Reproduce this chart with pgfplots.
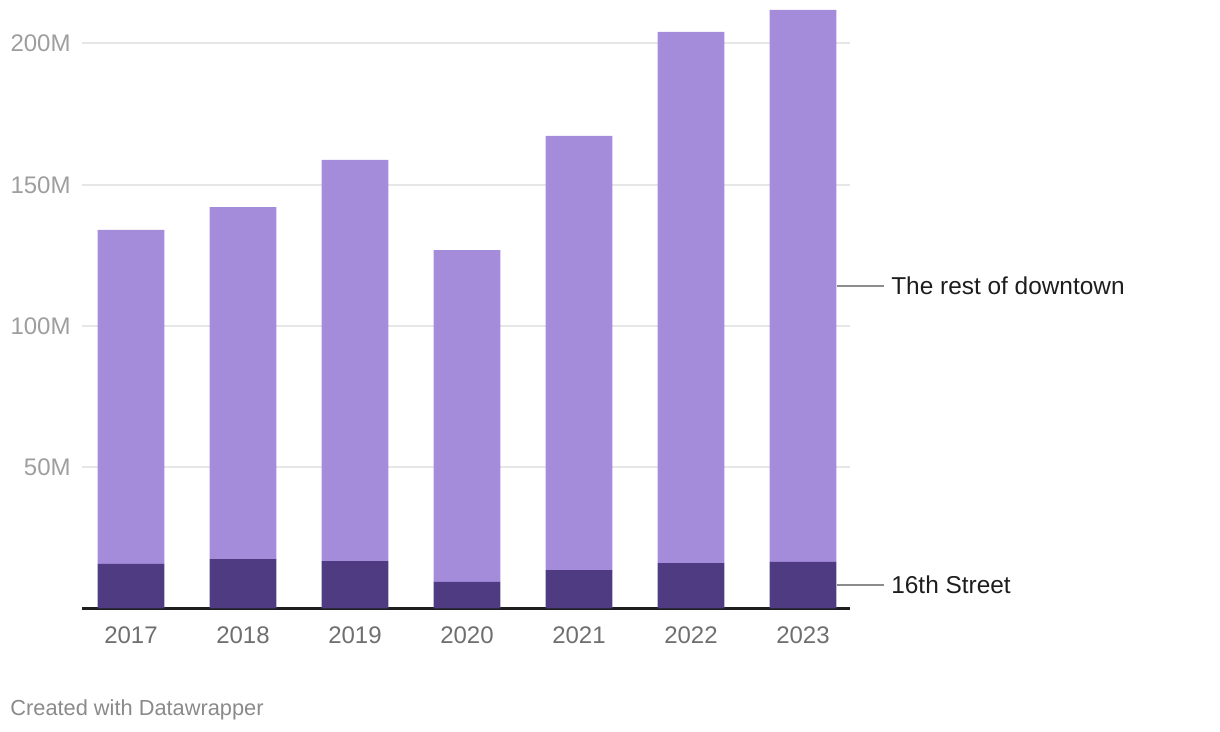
\documentclass[border=0pt]{standalone}
\usepackage{fontspec}
\setmainfont{Liberation Sans}
\usepackage{pgfplots}
\pgfplotsset{compat=1.18}

\definecolor{restpurple}{HTML}{A48CDB}
\definecolor{streetpurple}{HTML}{4F3B81}
\definecolor{gridgray}{HTML}{E6E6E6}
\definecolor{xlabgray}{HTML}{6F6F6F}
\definecolor{ylabgray}{HTML}{9E9E9E}
\definecolor{footgray}{HTML}{8A8A8A}
\definecolor{linegray}{HTML}{8C8C8C}
\definecolor{labtext}{HTML}{1D1D1D}

\begin{document}
\begin{tikzpicture}
\begin{axis}[
    name=ax,
    scale only axis,
    width=384pt, height=304.25pt,
    xmin=-0.4375, xmax=6.4196,
    ymin=0, ymax=215.4,
    ybar stacked,
    bar width=0.598,
    clip=false,
    axis x line*=bottom, axis y line*=left,
    x axis line style={draw=black!88, line width=1.1pt, -},
    y axis line style={draw=none},
    major tick length=0pt,
    xtick={0,1,2,3,4,5,6},
    xticklabels={2017,2018,2019,2020,2021,2022,2023},
    ytick={50,100,150,200},
    yticklabels={50M,100M,150M,200M},
    ymajorgrids,
    grid style={color=gridgray, line width=1pt},
    /pgf/number format/assume math mode=true,
    xticklabel style={font=\fontsize{12}{14}\selectfont, text=xlabgray,
        inner sep=0pt, anchor=north, yshift=-8.75pt},
    yticklabel style={font=\fontsize{12}{14}\selectfont, text=ylabgray,
        inner sep=0pt, anchor=east, xshift=-5.5pt},
]
% 16th Street (millions)
\addplot[fill=streetpurple, draw=none] coordinates {
    (0,15.8) (1,17.5) (2,16.8) (3,9.4) (4,13.6) (5,16.1) (6,16.5)};
% rest of downtown (millions)
\addplot[fill=restpurple, draw=none] coordinates {
    (0,118.2) (1,124.6) (2,142.0) (3,117.5) (4,153.7) (5,188.0) (6,195.4)};

\draw[linegray, line width=0.8pt] (axis cs:6.3,114.2) -- (axis cs:6.719,114.2)
    node[anchor=west, inner sep=0pt, xshift=3.5pt, text=labtext,
         font=\fontsize{12.2}{15}\selectfont] {The rest of downtown};
\draw[linegray, line width=0.8pt] (axis cs:6.3,8.25) -- (axis cs:6.719,8.25)
    node[anchor=west, inner sep=0pt, xshift=3.5pt, text=labtext,
         font=\fontsize{12.2}{15}\selectfont] {16th Street};
\end{axis}

\node[anchor=base west, inner sep=0pt, text=footgray,
      font=\fontsize{10.9}{13}\selectfont]
    at ([shift={(-36pt,-53.75pt)}]ax.south west) {Created with Datawrapper};

\pgfresetboundingbox
\path ([shift={(-41pt,-61.75pt)}]ax.south west) rectangle ++(610pt,366pt);
\end{tikzpicture}
\end{document}
